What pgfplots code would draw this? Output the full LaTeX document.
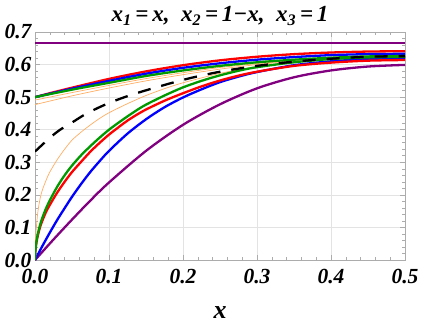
\documentclass[border=0pt]{standalone}
\usepackage{fontspec}
\setmainfont{Liberation Serif}
\usepackage{pgfplots}
\pgfplotsset{compat=1.18}

\definecolor{mred}{rgb}{1,0,0}
\definecolor{mblue}{rgb}{0,0,1}
\definecolor{mgreen}{rgb}{0,0.6,0}
\definecolor{mpurple}{rgb}{0.5,0,0.5}
\definecolor{morange}{rgb}{1,0.68,0.38}

\begin{document}
\begin{tikzpicture}
\begin{axis}[
    name=ax,
    scale only axis,
    width=370pt, height=228pt,
    xmin=0, xmax=0.5,
    ymin=0, ymax=0.7,
    xtick={0,0.1,0.2,0.3,0.4,0.5},
    ytick={0,0.1,0.2,0.3,0.4,0.5,0.6,0.7},
    minor x tick num=4,
    minor y tick num=4,
    tick align=inside,
    major tick length=5pt,
    minor tick length=3pt,
    grid=major,
    grid style={gray!22, line width=0.7pt},
    axis line style={gray!65, line width=0.7pt},
    tick style={gray!65, line width=0.6pt},
    /pgf/number format/assume math mode=true,
    /pgf/number format/.cd, fixed, fixed zerofill, precision=1, /pgfplots/.cd,
    ticklabel style={font=\fontsize{21.5}{21.5}\selectfont\bfseries\itshape},
    xticklabel style={yshift=-6pt},
    title={\bfseries\itshape x\textsubscript{1}\,=\,x,\ \ x\textsubscript{2}\,=\,1−x,\ \ x\textsubscript{3}\,=\,1},
    title style={font=\fontsize{23}{23}\selectfont, yshift=-3pt},
    xlabel={\bfseries\itshape x},
    xlabel style={font=\fontsize{26}{26}\selectfont, yshift=-16pt},
]

% thin orange curves
\addplot[morange, line width=0.7pt, smooth] coordinates {
 (0,0.491) (0.05,0.514) (0.1,0.536) (0.15,0.557) (0.2,0.575) (0.25,0.591)
 (0.3,0.603) (0.35,0.612) (0.4,0.619) (0.45,0.623) (0.5,0.625)};
\addplot[morange, line width=0.7pt, smooth] coordinates {
 (0,0.477) (0.05,0.504) (0.1,0.528) (0.15,0.55) (0.2,0.569) (0.25,0.586)
 (0.3,0.6) (0.35,0.61) (0.4,0.617) (0.45,0.622) (0.5,0.624)};
\addplot[morange, line width=0.7pt, smooth] coordinates {
 (0,0) (0.0005,0.055) (0.001,0.075) (0.002,0.105) (0.004,0.15) (0.007,0.19)
 (0.01,0.215) (0.015,0.245) (0.02,0.27) (0.03,0.308) (0.04,0.34) (0.05,0.368)
 (0.0625,0.393) (0.075,0.415) (0.0875,0.435) (0.1,0.452) (0.125,0.48)
 (0.15,0.505) (0.175,0.526) (0.2,0.544) (0.25,0.573) (0.3,0.594) (0.35,0.607)
 (0.4,0.616) (0.45,0.621) (0.5,0.623)};

% constant line
\addplot[mpurple, line width=2.3pt] coordinates {(0,0.6667) (0.5,0.6667)};

% upper group, starting at 0.5
\addplot[mred, line width=2.3pt, smooth] coordinates {
 (0,0.5) (0.025,0.515) (0.05,0.529) (0.1,0.556) (0.15,0.579) (0.2,0.598)
 (0.25,0.613) (0.3,0.624) (0.35,0.632) (0.4,0.637) (0.45,0.640) (0.5,0.641)};
\addplot[mblue, line width=2.3pt, smooth] coordinates {
 (0,0.5) (0.05,0.526) (0.1,0.550) (0.15,0.572) (0.2,0.590) (0.25,0.604)
 (0.3,0.615) (0.35,0.623) (0.4,0.629) (0.45,0.632) (0.5,0.633)};
\addplot[mgreen, line width=2.3pt, smooth] coordinates {
 (0,0.5) (0.05,0.523) (0.1,0.544) (0.15,0.565) (0.2,0.582) (0.25,0.596)
 (0.3,0.607) (0.35,0.615) (0.4,0.621) (0.45,0.625) (0.5,0.626)};

% lower group, starting at 0
\addplot[mpurple, line width=2.3pt, smooth] coordinates {
 (0,0) (0.025,0.063) (0.05,0.124) (0.075,0.183) (0.1,0.238) (0.15,0.335)
 (0.2,0.415) (0.25,0.478) (0.3,0.527) (0.35,0.561) (0.4,0.582) (0.45,0.594) (0.5,0.599)};
\addplot[mblue, line width=2.3pt, smooth] coordinates {
 (0,0) (0.01,0.043) (0.02,0.084) (0.03,0.123) (0.04,0.159) (0.05,0.194)
 (0.0625,0.234) (0.075,0.271) (0.0875,0.304) (0.1,0.335) (0.125,0.388)
 (0.15,0.432) (0.175,0.469) (0.2,0.499) (0.225,0.524) (0.25,0.546)
 (0.275,0.563) (0.3,0.577) (0.35,0.598) (0.4,0.61) (0.45,0.617) (0.5,0.62)};
\addplot[mred, line width=2.3pt, smooth] coordinates {
 (0,0) (0.0005,0.027) (0.001,0.038) (0.002,0.054) (0.004,0.077) (0.007,0.102)
 (0.01,0.121) (0.015,0.148) (0.02,0.169) (0.03,0.207) (0.04,0.24) (0.05,0.27)
 (0.0625,0.302) (0.075,0.333) (0.0875,0.36) (0.1,0.385) (0.1125,0.407)
 (0.125,0.428) (0.1375,0.446) (0.15,0.462) (0.175,0.489) (0.2,0.512)
 (0.225,0.533) (0.25,0.551) (0.275,0.566) (0.3,0.578) (0.35,0.596)
 (0.4,0.606) (0.45,0.612) (0.5,0.614)};
\addplot[mgreen, line width=2.3pt, smooth] coordinates {
 (0,0) (0.0005,0.029) (0.001,0.041) (0.002,0.058) (0.004,0.082) (0.007,0.109)
 (0.01,0.13) (0.015,0.159) (0.02,0.183) (0.03,0.225) (0.04,0.26) (0.05,0.29)
 (0.0625,0.322) (0.075,0.35) (0.0875,0.376) (0.1,0.40) (0.1125,0.421)
 (0.125,0.441) (0.1375,0.46) (0.15,0.477) (0.175,0.505) (0.2,0.53)
 (0.225,0.55) (0.25,0.567) (0.275,0.581) (0.3,0.592) (0.35,0.607)
 (0.4,0.617) (0.45,0.622) (0.5,0.624)};

% dashed curve starting at 1/3
\addplot[black, line width=2.3pt, dash pattern=on 13pt off 11pt, smooth] coordinates {
 (0,0.333) (0.02,0.375) (0.034,0.4) (0.05,0.422) (0.07,0.45) (0.1,0.482)
 (0.137,0.512) (0.2,0.553) (0.25,0.578) (0.3,0.596) (0.35,0.609) (0.4,0.618)
 (0.45,0.624) (0.5,0.626)};

\end{axis}
\pgfresetboundingbox
\path ([xshift=-35pt,yshift=-67pt]ax.south west) rectangle ([xshift=17pt,yshift=32pt]ax.north east);
\end{tikzpicture}
\end{document}
